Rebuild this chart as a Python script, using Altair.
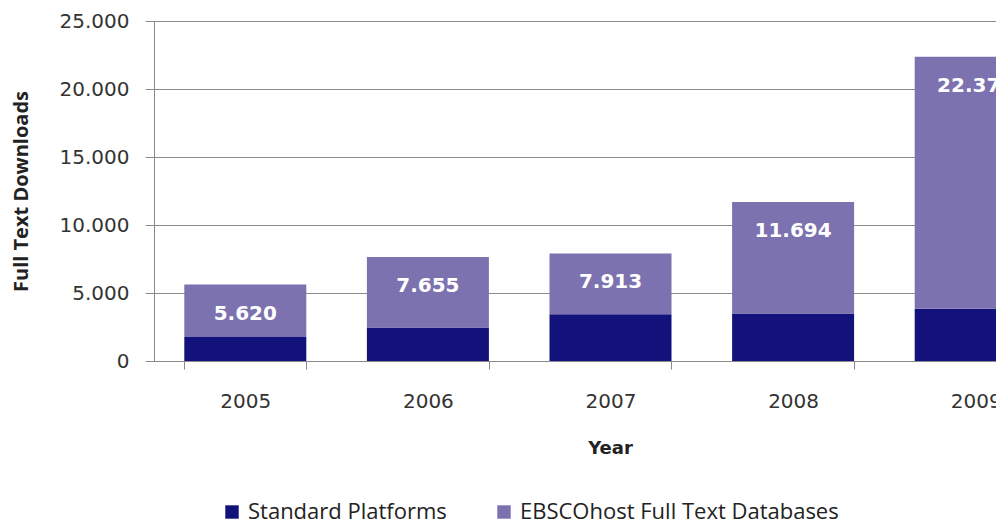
import altair as alt
import pandas as pd

years = ["2005", "2006", "2007", "2008", "2009"]
standard = [1770, 2460, 3430, 3500, 3850]
totals = [5620, 7655, 7913, 11694, 22375]
series = ["Standard Platforms", "EBSCOhost Full Text Databases"]
colors = ["#12127a", "#7c72af"]
y_ticks = [0, 5000, 10000, 15000, 20000, 25000]

rows = []
for yr, s, t in zip(years, standard, totals):
    rows.append({"year": yr, "series": series[0], "value": s, "ord": 0})
    rows.append({"year": yr, "series": series[1], "value": t - s, "ord": 1})
df = pd.DataFrame(rows)
lab = pd.DataFrame({
    "year": years,
    "total": totals,
    "label": [f"{t:,}".replace(",", ".") for t in totals],
})

grid_col = "#8a8a8a"
num_font = "DejaVu Sans"
txt_font = "Open Sans"

x_enc = alt.X(
    "year:N",
    title="Year",
    sort=years,
    scale=alt.Scale(range=[0, 913], paddingInner=1 / 3, paddingOuter=1 / 6),
    axis=alt.Axis(
        labelAngle=0,
        tickBand="extent",
        tickSize=8,
        tickColor=grid_col,
        domainColor=grid_col,
        labelFont=num_font,
        labelFontSize=20,
        labelColor="#333333",
        labelPadding=22,
        titleFont=num_font,
        titleFontSize=18,
        titleFontWeight="bold",
        titleColor="#222222",
        titlePadding=28,
        titleX=456,
    ),
)

y_scale = alt.Scale(domain=[0, 25000], nice=False)

bars = alt.Chart(df).mark_bar(size=122).encode(
    x=x_enc,
    y=alt.Y(
        "value:Q",
        stack="zero",
        scale=y_scale,
        title="Full Text Downloads",
        axis=alt.Axis(
            values=y_ticks,
            labelExpr="replace(format(datum.value, ','), ',', '.')",
            grid=True,
            gridColor=grid_col,
            domainColor=grid_col,
            tickColor=grid_col,
            tickSize=9,
            labelFont=num_font,
            labelFontSize=20,
            labelColor="#333333",
            labelPadding=16,
            titleFont=txt_font,
            titleFontSize=20,
            titleFontWeight="bold",
            titleColor="#222222",
            titlePadding=28,
        ),
    ),
    color=alt.Color(
        "series:N",
        scale=alt.Scale(domain=series, range=colors),
        legend=alt.Legend(
            title=None,
            orient="none",
            legendX=67,
            legendY=480,
            direction="horizontal",
            symbolType="square",
            symbolSize=180,
            symbolStrokeWidth=0,
            labelFont=txt_font,
            labelFontSize=22,
            labelColor="#222222",
            labelOffset=5,
            labelLimit=0,
            columnPadding=46,
        ),
    ),
    order=alt.Order("ord:Q", sort="ascending"),
)

labels = alt.Chart(lab).mark_text(
    color="white",
    font=num_font,
    fontSize=20,
    fontWeight="bold",
    baseline="middle",
    dy=29,
).encode(
    x=alt.X("year:N", sort=years),
    y=alt.Y("total:Q", scale=y_scale),
    text="label:N",
)

chart = alt.layer(bars, labels).properties(
    width=842,
    height=340,
    autosize=alt.AutoSizeParams(type="none"),
    padding={"left": 146, "top": 13, "right": 0, "bottom": 161},
).configure_view(stroke=None).configure(background="white")

chart.save("out.html", embed_options={"renderer": "svg", "actions": False})
